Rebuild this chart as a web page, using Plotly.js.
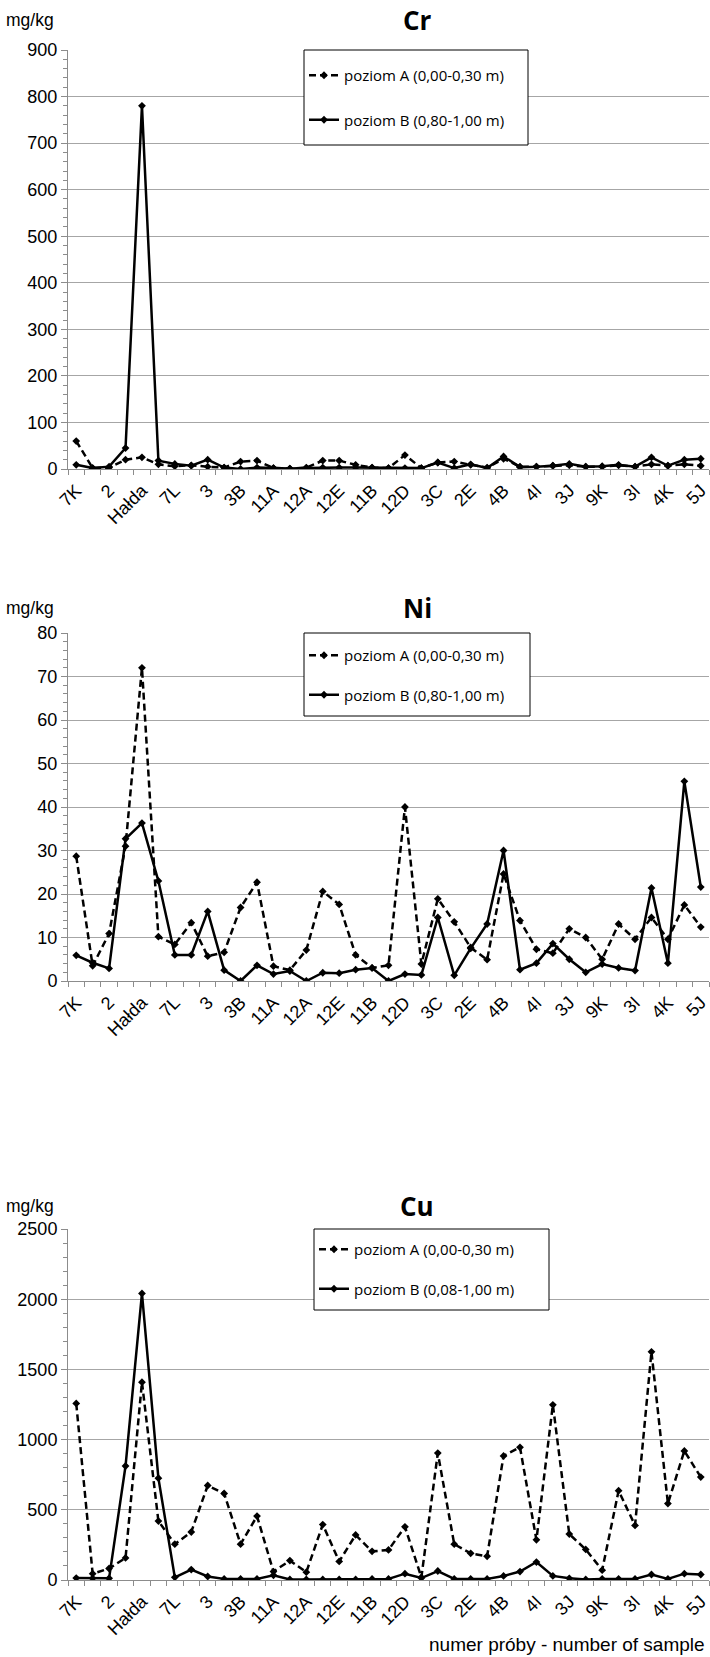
<!DOCTYPE html>
<html><head><meta charset="utf-8">
<script src="https://cdn.plot.ly/plotly-3.0.1.min.js"></script>
<style>html,body{margin:0;padding:0;background:#fff}#chart{width:710px;height:1657px}</style>
</head><body><div id="chart"></div>
<script>
// ---- data ----
const sampleLabels = ['7K','2','Hałda','7L','3','3B','11A','12A','12E','11B','12D','3C','2E','4B','4I','3J','9K','3I','4K','5J'];

const crA = [60,2,3,20,25,10,6,8,5,3,16,18,2,1,3,18,18,9,3,2,30,2,14,16,9,3,22,5,5,7,8,5,5,8,5,10,7,10,7];
const crB = [9,2,5,45,780,18,11,7,20,3,0,3,2,1,2,3,3,3,3,2,2,2,14,2,10,2,27,4,5,7,11,5,6,9,5,25,7,20,22];

const niA = [28.7,3.5,10.9,31,72,10.2,8.4,13.4,5.7,6.6,16.9,22.7,3.4,2.5,7.1,20.6,17.6,6,3,3.6,40,3.9,18.9,13.6,7.7,4.9,24.6,13.9,7.3,6.4,12,10,5,13.1,9.6,14.6,9.6,17.5,12.4];
const niB = [5.9,4.2,2.9,32.7,36.3,23,6,6,16,2.5,0,3.6,1.6,2.3,0,1.9,1.8,2.6,3,0,1.6,1.4,14.6,1.3,7.5,13.1,30,2.6,4.1,8.6,5,2,3.9,3,2.4,21.4,4.1,45.9,21.6];

const cuA = [1258,45,82,157,1409,420,255,342,673,616,255,455,60,138,56,395,132,321,204,214,379,19,904,255,190,169,884,945,286,1248,327,218,70,636,389,1625,544,919,733];
const cuB = [14,12,12,812,2041,725,19,74,25,8,8,8,33,4,4,4,4,4,8,8,45,14,64,8,8,8,29,60,128,29,12,4,8,8,8,39,8,45,39];

const nameA = 'poziom A (0,00-0,30 m)';
const nameB = 'poziom B (0,80-1,00 m)';
const nameBcu = 'poziom B (0,08-1,00 m)';
const unitLabel = 'mg/kg';
const xTitle = 'numer próby - number of sample';

// ---- layout ----
const W = 710, H = 1657;
const plotL = 68, plotR = 709;
const panels = [
  {title:'Cr', A:crA, B:crB, bName:nameB, titleY:20, top:50, bottom:469, range:[0,900], dtick:100, minor:20,
   box:[304,50,528,145], entryA:75, spacing:46},
  {title:'Ni', A:niA, B:niB, bName:nameB, titleY:608, top:633, bottom:981, range:[0,80], dtick:10, minor:2,
   box:[304,633,530,716], entryA:655, spacing:41},
  {title:'Cu', A:cuA, B:cuB, bName:nameBcu, titleY:1206, top:1229, bottom:1580, range:[0,2500], dtick:500, minor:100,
   box:[314,1229,549,1310], entryA:1249, spacing:41}
];

const arial = 'Liberation Sans, Arial, sans-serif';
const py = p => 1 - p / H;
const px = p => p / W;

const traces = [];
const layout = {
  width: W, height: H,
  margin: {l:0, r:0, t:0, b:0},
  paper_bgcolor: '#fff', plot_bgcolor: '#fff',
  showlegend: true,
  annotations: [], shapes: []
};

panels.forEach((p, k) => {
  const sfx = k === 0 ? '' : String(k + 1);
  const xs = p.A.map((_, i) => i);
  const lg = 'legend' + sfx;
  traces.push({
    x: xs, y: p.A, type:'scatter', mode:'lines+markers', name: nameA,
    xaxis:'x'+sfx, yaxis:'y'+sfx, legend: lg, legendgroup:'a'+k,
    line:{color:'#000', width:2.5, dash:'7px,4px'},
    marker:{symbol:'diamond', size:6, color:'#000'}
  });
  traces.push({
    x: xs, y: p.B, type:'scatter', mode:'lines+markers', name: p.bName,
    xaxis:'x'+sfx, yaxis:'y'+sfx, legend: lg, legendgroup:'b'+k,
    line:{color:'#000', width:2.5},
    marker:{symbol:'diamond', size:6, color:'#000'}
  });
  const boundaries = xs.concat([xs.length]).map(v => v - 0.5);
  layout['xaxis'+sfx] = {
    domain:[px(plotL), px(plotR)], anchor:'y'+sfx,
    range:[-0.5, xs.length - 0.5], fixedrange:true,
    tickmode:'array', tickvals: sampleLabels.map((_, j) => 2*j), ticktext: sampleLabels,
    tickangle:-45, tickfont:{family:arial, size:18, color:'#000'}, ticks:'',
    ticklabelstandoff:3, ticklabeloverflow:'allow',
    showgrid:false, zeroline:false,
    showline:true, linecolor:'#8c8c8c', linewidth:1,
    minor:{tickmode:'array', tickvals: boundaries, ticks:'outside', ticklen:5, tickcolor:'#8c8c8c', showgrid:false}
  };
  layout['yaxis'+sfx] = {
    domain:[py(p.bottom), py(p.top)], anchor:'x'+sfx,
    range:p.range, dtick:p.dtick, tick0:0, fixedrange:true,
    tickfont:{family:arial, size:18, color:'#000'},
    ticks:'outside', ticklen:6, tickcolor:'#8c8c8c',
    showgrid:true, gridcolor:'#a6a6a6', gridwidth:1, zeroline:false,
    showline:true, linecolor:'#8c8c8c', linewidth:1,
    minor:{dtick:p.minor, ticks:'outside', ticklen:4, tickcolor:'#8c8c8c', showgrid:false}
  };
  const b = p.box;
  layout.shapes.push({type:'rect', xref:'paper', yref:'paper', layer:'above',
    x0:px(b[0]), x1:px(b[2]), y0:py(b[1]), y1:py(b[3]),
    line:{color:'#000', width:1}, fillcolor:'#fff'});
  layout[lg] = {
    x: px(b[0]), y: py(p.entryA - 16), xanchor:'left', yanchor:'top',
    bgcolor:'rgba(0,0,0,0)', borderwidth:0,
    font:{family:'Open Sans, sans-serif', size:15, color:'#000'},
    traceorder:'grouped', tracegroupgap: p.spacing - 24
  };
  layout.annotations.push({text:p.title, xref:'paper', yref:'paper', x:px(417), y:py(p.titleY),
    xanchor:'center', yanchor:'middle', showarrow:false,
    font:{family:'Open Sans, sans-serif', size:26, color:'#000', weight:'bold'}});
  layout.annotations.push({text:unitLabel, xref:'paper', yref:'paper', x:px(4), y:py(p.titleY),
    xanchor:'left', yanchor:'middle', showarrow:false,
    font:{family:arial, size:17.5, color:'#000'}});
});

layout.annotations.push({text:xTitle, xref:'paper', yref:'paper', x:px(707), y:py(1644),
  xanchor:'right', yanchor:'middle', showarrow:false,
  font:{family:arial, size:19, color:'#000'}});

Plotly.newPlot('chart', traces, layout, {staticPlot:true, displayModeBar:false});
</script></body></html>
